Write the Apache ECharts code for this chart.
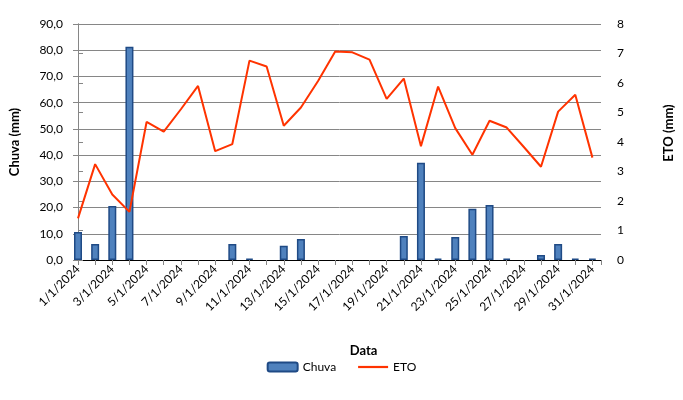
<!DOCTYPE html>
<html>
<head>
<meta charset="utf-8">
<title>Chuva e ETO - Janeiro 2024</title>
<script src="https://cdn.jsdelivr.net/npm/echarts@6/dist/echarts.min.js"></script>
<style>
    html, body { margin: 0; padding: 0; background: #ffffff; }
    #chart { width: 683px; height: 400px; }
</style>
</head>
<body>
<div id="chart"></div>
<script>
// dias de janeiro 2024
const dates = [
    '1/1/2024', '2/1/2024', '3/1/2024', '4/1/2024', '5/1/2024', '6/1/2024', '7/1/2024', '8/1/2024',
    '9/1/2024', '10/1/2024', '11/1/2024', '12/1/2024', '13/1/2024', '14/1/2024', '15/1/2024', '16/1/2024',
    '17/1/2024', '18/1/2024', '19/1/2024', '20/1/2024', '21/1/2024', '22/1/2024', '23/1/2024', '24/1/2024',
    '25/1/2024', '26/1/2024', '27/1/2024', '28/1/2024', '29/1/2024', '30/1/2024', '31/1/2024'
];

// chuva (mm)
const chuva = [
    10.7, 6.1, 20.6, 81.3, 0, 0, 0, 0,
    0, 6.1, 0.5, 0, 5.4, 8.0, 0, 0,
    0, 0, 0, 9.2, 37.1, 0.5, 8.8, 19.5,
    21.0, 0.5, 0, 1.9, 6.1, 0.5, 0.5
];

// ETO (mm)
const eto = [
    1.41, 3.25, 2.22, 1.63, 4.68, 4.35, 5.11, 5.90,
    3.69, 3.93, 6.76, 6.56, 4.55, 5.17, 6.07, 7.07,
    7.04, 6.79, 5.46, 6.15, 3.86, 5.88, 4.47, 3.57,
    4.72, 4.49, 3.83, 3.16, 5.03, 5.60, 3.47
];

const font = 'Lato';
const ec = echarts.init(document.getElementById('chart'));

// dias sem chuva nao desenham borda
let chuvaData = chuva.map((v, i) => {
    if (v === 0) {
        return { value: [i, v], itemStyle: { borderWidth: 0 } };
    }
    return [i, v];
});

var option = {
    animation: false,
    textStyle: { fontFamily: font, color: '#000000' },
    grid: {
        left: 75,
        right: 76,
        top: 24,
        bottom: 140
    },
    legend: {
        bottom: 22,
        left: 'center',
        itemWidth: 30,
        itemHeight: 9,
        itemGap: 22,
        textStyle: { fontFamily: font, fontSize: 12, color: '#000000' },
        data: [
            { name: 'Chuva' },
            { name: 'ETO', icon: 'path://M0,0H30V2.2H0Z' }
        ]
    },
    xAxis: [{
        type: 'value',
        min: 0,
        max: 30.5,
        interval: 1,
        name: 'Data',
        nameLocation: 'middle',
        nameGap: 84,
        nameTextStyle: { fontFamily: font, fontWeight: 'bold', fontSize: 13, color: '#000000', padding: [0, 0, 0, 48] },
        axisLine: { lineStyle: { color: '#868686' } },
        axisTick: { length: 5, lineStyle: { color: '#868686' } },
        splitLine: { show: false },
        axisLabel: {
            rotate: 45,
            margin: 7,
            fontSize: 12,
            color: '#000000',
            formatter: function (v) {
                if (v % 2 !== 0) return '';
                return dates[v] || '';
            }
        }
    }, {
        // linha superior da área do gráfico
        type: 'value',
        position: 'top',
        min: 0,
        max: 30.5,
        axisLine: { show: true, lineStyle: { color: '#000000' } },
        axisTick: { show: false },
        axisLabel: { show: false },
        splitLine: { show: false }
    }],
    yAxis: [{
        type: 'value',
        min: 0,
        max: 90,
        interval: 10,
        name: 'Chuva (mm)',
        nameLocation: 'middle',
        nameRotate: 90,
        nameGap: 57,
        nameTextStyle: { fontFamily: font, fontWeight: 'bold', fontSize: 13, color: '#000000' },
        axisLine: { show: true, lineStyle: { color: '#868686' } },
        axisTick: { show: true, length: 5, lineStyle: { color: '#868686' } },
        splitLine: { show: true, lineStyle: { color: '#868686', width: 1 } },
        axisLabel: {
            margin: 15,
            fontSize: 12,
            color: '#000000',
            formatter: function (v) {
                return v.toFixed(1).replace('.', ',');
            }
        }
    }, {
        type: 'value',
        min: 0,
        max: 8,
        interval: 1,
        position: 'right',
        name: 'ETO (mm)',
        nameLocation: 'middle',
        nameRotate: 90,
        nameGap: 61,
        nameTextStyle: { fontFamily: font, fontWeight: 'bold', fontSize: 13, color: '#000000', padding: [0, 0, 0, 18] },
        axisLine: { show: true, lineStyle: { color: '#868686' } },
        axisTick: { show: true, length: 5, lineStyle: { color: '#868686' } },
        splitLine: { show: false },
        axisLabel: { margin: 16, fontSize: 12, color: '#000000' }
    }],
    series: [{
        name: 'Chuva',
        type: 'bar',
        xAxisIndex: 0,
        yAxisIndex: 0,
        barWidth: 8,
        clip: true,
        itemStyle: {
            color: '#4F81BD',
            borderColor: '#1F4A85',
            borderWidth: 1.5
        },
        data: chuvaData
    }, {
        name: 'ETO',
        type: 'line',
        xAxisIndex: 0,
        yAxisIndex: 1,
        symbol: 'none',
        lineStyle: { color: '#FF3300', width: 2 },
        itemStyle: { color: '#FF3300' },
        data: eto.map((v, i) => [i, v])
    }]
};

ec.setOption(option);
</script>
</body>
</html>
